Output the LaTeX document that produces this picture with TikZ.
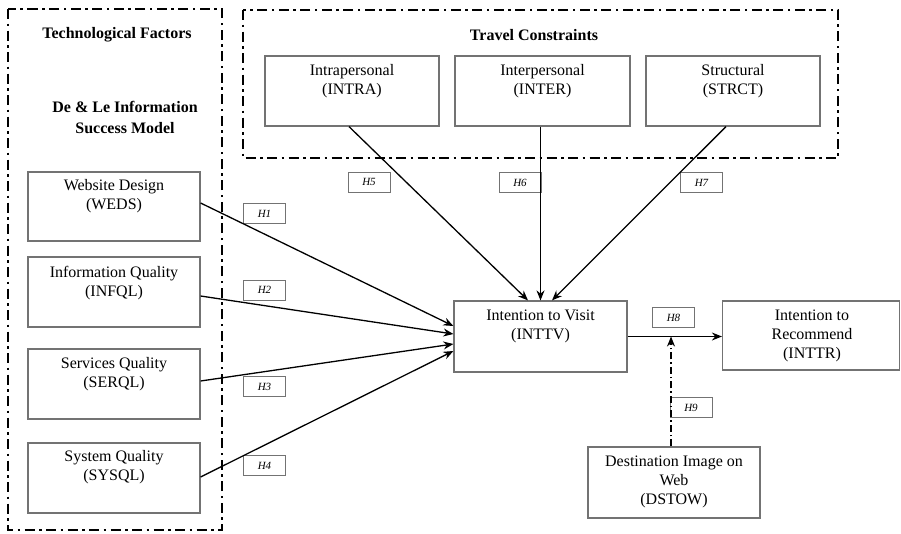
\documentclass[tikz,border=0pt]{standalone}
\usepackage{fontspec}
\setmainfont{Liberation Serif}
\usetikzlibrary{arrows.meta,calc}
\tikzset{
  frame/.style={draw=black, line width=2pt, dash pattern=on 10pt off 4.5pt on 2.5pt off 4.5pt},
  boxnode/.style={draw=black!55, line width=1.2pt, inner sep=0pt},
  boxtext/.style={align=center, font=\fontsize{16}{19}\selectfont, inner sep=0pt},
  heading/.style={font=\bfseries\fontsize{16}{21}\selectfont, align=center, inner sep=0pt},
  hyp/.style={draw=black!55, line width=1pt, minimum width=42pt, minimum height=20pt,
              inner sep=0pt, font=\itshape\fontsize{11}{12}\selectfont},
  link/.style={line width=1.3pt, -{Stealth[length=10pt,width=8pt]}},
  modlink/.style={line width=1.1pt, dash pattern=on 7pt off 3pt on 1.5pt off 3pt,
                  -{Stealth[length=10pt,width=8pt]}},
}
\begin{document}
\begin{tikzpicture}[x=1pt,y=-1pt]
\useasboundingbox (0,0) rectangle (901,533);

% group frames
\draw[frame] (8,9) rectangle (222,530);
\draw[frame] (243,10) rectangle (838,158);

% headings
\node[heading] (techT) at (117,35) {Technological Factors};
\node[heading] (dlT) at (125,117) {De \& Le Information\\Success Model};
\node[heading] (travT) at (534,35) {Travel Constraints};

% constructs
\node[boxnode, minimum width=172pt, minimum height=69pt] (weds)  at (114,206.5) {};
\node[boxnode, minimum width=172pt, minimum height=70pt] (infql) at (114,292) {};
\node[boxnode, minimum width=172pt, minimum height=70pt] (serql) at (114,384) {};
\node[boxnode, minimum width=172pt, minimum height=70pt] (sysql) at (114,478) {};
\node[boxnode, minimum width=174pt, minimum height=70pt] (intra) at (352,91) {};
\node[boxnode, minimum width=175pt, minimum height=70pt] (inter) at (542.5,91) {};
\node[boxnode, minimum width=174pt, minimum height=70pt] (strct) at (733,91) {};
\node[boxnode, minimum width=173pt, minimum height=71pt] (inttv) at (540.5,336.5) {};
\node[boxnode, minimum width=177pt, minimum height=69pt] (inttr) at (811,335.5) {};
\node[boxnode, minimum width=172pt, minimum height=71pt] (dstow) at (674,482.5) {};

% construct labels
\node[boxtext] (wedsT)  at (114,196)   {Website Design\\(WEDS)};
\node[boxtext] (infqlT) at (114,283.5) {Information Quality\\(INFQL)};
\node[boxtext] (serqlT) at (114,374.5) {Services Quality\\(SERQL)};
\node[boxtext] (sysqlT) at (114,467.5) {System Quality\\(SYSQL)};
\node[boxtext] (intraT) at (352,81.5)  {Intrapersonal\\(INTRA)};
\node[boxtext] (interT) at (542.5,81.5){Interpersonal\\(INTER)};
\node[boxtext] (strctT) at (733,81.5)  {Structural\\(STRCT)};
\node[boxtext] (inttvT) at (540.5,326) {Intention to Visit\\(INTTV)};
\node[boxtext] (inttrT) at (812,335.5) {Intention to\\Recommend\\(INTTR)};
\node[boxtext] (dstowT) at (674,481.5) {Destination Image on\\Web\\(DSTOW)};

% hypothesis tags
\node[hyp] (h1) at (264.5,213.5) {H1};
\node[hyp] (h2) at (264.5,290)   {H2};
\node[hyp] (h3) at (264.5,386.5) {H3};
\node[hyp] (h4) at (264.5,465.5) {H4};
\node[hyp] (h5) at (369,182)     {H5};
\node[hyp] (h6) at (520,182.5)   {H6};
\node[hyp] (h7) at (701.5,182.5) {H7};
\node[hyp] (h8) at (673.5,317.5) {H8};
\node[hyp] (h9) at (691,407.5)   {H9};

% technological factors -> intention to visit
\draw[link] ($(weds.east)+(0,-3.5)$)  -- ($(inttv.west)+(0,-10.5)$);
\draw[link] ($(infql.east)+(0,4)$)    -- ($(inttv.west)+(0,-2.5)$);
\draw[link] ($(serql.east)+(0,-3)$)   -- ($(inttv.west)+(0,7.5)$);
\draw[link] ($(sysql.east)+(0,-1)$)   -- ($(inttv.west)+(0,14.5)$);

% travel constraints -> intention to visit
\draw[link] ($(intra.south)+(-3,0)$)  -- ($(inttv.north)+(-12.5,0)$);
\draw[link] (inttv.north |- inter.south) -- (inttv.north);
\draw[link] ($(strct.south)+(-7,0)$)  -- ($(inttv.north)+(11.5,0)$);

% intention to visit -> intention to recommend, moderated by destination image
\draw[link] (inttv.east) -- (inttv.east -| inttr.west);
\coordinate (modfoot) at ($(dstow.north)+(-3,0)$);
\draw[modlink] (modfoot) -- (modfoot |- inttv.east);
\end{tikzpicture}
\end{document}
